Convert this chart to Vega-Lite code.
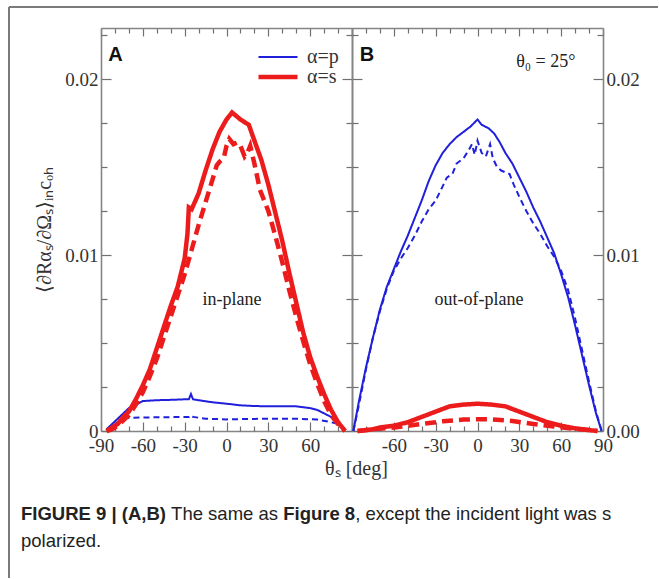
{
  "$schema": "https://vega.github.io/schema/vega-lite/v6.json",
  "background": "white",
  "padding": {"left": 7, "top": 5, "right": 0, "bottom": 0},
  "bounds": "flush",
  "columns": 2,
  "spacing": {"row": 60, "column": 0},
  "config": {
    "view": {"stroke": null},
    "axis": {"domainColor": "#858585", "domainWidth": 1.6, "tickColor": "#707070", "tickWidth": 1.2, "labelFont": "Liberation Serif", "labelFontSize": 19, "labelColor": "#333333", "grid": false, "labelFlush": false, "labelOverlap": false, "titleFont": "Liberation Serif", "titleFontWeight": "normal", "titleColor": "#333333"}
  },
  "datasets": {
    "A": [
      {"alpha": "α=s", "calc": "I", "theta": -86, "R": 0},
      {"alpha": "α=s", "calc": "I", "theta": -82, "R": 0.0002},
      {"alpha": "α=s", "calc": "I", "theta": -78, "R": 0.0004},
      {"alpha": "α=s", "calc": "I", "theta": -74, "R": 0.0008},
      {"alpha": "α=s", "calc": "I", "theta": -70, "R": 0.0011},
      {"alpha": "α=s", "calc": "I", "theta": -65, "R": 0.0018},
      {"alpha": "α=s", "calc": "I", "theta": -60, "R": 0.0026},
      {"alpha": "α=s", "calc": "I", "theta": -55, "R": 0.0035},
      {"alpha": "α=s", "calc": "I", "theta": -50, "R": 0.0047},
      {"alpha": "α=s", "calc": "I", "theta": -45, "R": 0.0059},
      {"alpha": "α=s", "calc": "I", "theta": -40, "R": 0.0071},
      {"alpha": "α=s", "calc": "I", "theta": -35, "R": 0.0082},
      {"alpha": "α=s", "calc": "I", "theta": -30, "R": 0.0098},
      {"alpha": "α=s", "calc": "I", "theta": -28, "R": 0.0112},
      {"alpha": "α=s", "calc": "I", "theta": -27, "R": 0.0127},
      {"alpha": "α=s", "calc": "I", "theta": -25, "R": 0.0126},
      {"alpha": "α=s", "calc": "I", "theta": -20, "R": 0.0135},
      {"alpha": "α=s", "calc": "I", "theta": -15, "R": 0.0148},
      {"alpha": "α=s", "calc": "I", "theta": -10, "R": 0.016},
      {"alpha": "α=s", "calc": "I", "theta": -5, "R": 0.017},
      {"alpha": "α=s", "calc": "I", "theta": 0, "R": 0.0177},
      {"alpha": "α=s", "calc": "I", "theta": 4, "R": 0.0181},
      {"alpha": "α=s", "calc": "I", "theta": 10, "R": 0.0177},
      {"alpha": "α=s", "calc": "I", "theta": 16, "R": 0.0174},
      {"alpha": "α=s", "calc": "I", "theta": 20, "R": 0.0165},
      {"alpha": "α=s", "calc": "I", "theta": 25, "R": 0.0154},
      {"alpha": "α=s", "calc": "I", "theta": 30, "R": 0.014},
      {"alpha": "α=s", "calc": "I", "theta": 35, "R": 0.0124},
      {"alpha": "α=s", "calc": "I", "theta": 40, "R": 0.0108},
      {"alpha": "α=s", "calc": "I", "theta": 45, "R": 0.009},
      {"alpha": "α=s", "calc": "I", "theta": 50, "R": 0.0073},
      {"alpha": "α=s", "calc": "I", "theta": 55, "R": 0.0056},
      {"alpha": "α=s", "calc": "I", "theta": 60, "R": 0.0042},
      {"alpha": "α=s", "calc": "I", "theta": 65, "R": 0.0031},
      {"alpha": "α=s", "calc": "I", "theta": 70, "R": 0.0021},
      {"alpha": "α=s", "calc": "I", "theta": 75, "R": 0.0012},
      {"alpha": "α=s", "calc": "I", "theta": 80, "R": 0.0005},
      {"alpha": "α=s", "calc": "I", "theta": 85, "R": 0},
      {"alpha": "α=s", "calc": "II", "theta": -86, "R": 0},
      {"alpha": "α=s", "calc": "II", "theta": -82, "R": 0.0001},
      {"alpha": "α=s", "calc": "II", "theta": -78, "R": 0.0003},
      {"alpha": "α=s", "calc": "II", "theta": -74, "R": 0.0006},
      {"alpha": "α=s", "calc": "II", "theta": -70, "R": 0.0009},
      {"alpha": "α=s", "calc": "II", "theta": -65, "R": 0.0015},
      {"alpha": "α=s", "calc": "II", "theta": -60, "R": 0.0022},
      {"alpha": "α=s", "calc": "II", "theta": -55, "R": 0.0031},
      {"alpha": "α=s", "calc": "II", "theta": -50, "R": 0.0041},
      {"alpha": "α=s", "calc": "II", "theta": -45, "R": 0.0053},
      {"alpha": "α=s", "calc": "II", "theta": -40, "R": 0.0065},
      {"alpha": "α=s", "calc": "II", "theta": -35, "R": 0.0077},
      {"alpha": "α=s", "calc": "II", "theta": -30, "R": 0.0089},
      {"alpha": "α=s", "calc": "II", "theta": -25, "R": 0.0103},
      {"alpha": "α=s", "calc": "II", "theta": -20, "R": 0.0117},
      {"alpha": "α=s", "calc": "II", "theta": -15, "R": 0.013},
      {"alpha": "α=s", "calc": "II", "theta": -10, "R": 0.0143},
      {"alpha": "α=s", "calc": "II", "theta": -7, "R": 0.0151},
      {"alpha": "α=s", "calc": "II", "theta": -5, "R": 0.0153},
      {"alpha": "α=s", "calc": "II", "theta": -2, "R": 0.0155},
      {"alpha": "α=s", "calc": "II", "theta": 0, "R": 0.0162},
      {"alpha": "α=s", "calc": "II", "theta": 2, "R": 0.0166},
      {"alpha": "α=s", "calc": "II", "theta": 5, "R": 0.0163},
      {"alpha": "α=s", "calc": "II", "theta": 8, "R": 0.0164},
      {"alpha": "α=s", "calc": "II", "theta": 10, "R": 0.0162},
      {"alpha": "α=s", "calc": "II", "theta": 13, "R": 0.0156},
      {"alpha": "α=s", "calc": "II", "theta": 15, "R": 0.0158},
      {"alpha": "α=s", "calc": "II", "theta": 17, "R": 0.0162},
      {"alpha": "α=s", "calc": "II", "theta": 20, "R": 0.0152},
      {"alpha": "α=s", "calc": "II", "theta": 24, "R": 0.0137},
      {"alpha": "α=s", "calc": "II", "theta": 30, "R": 0.0125},
      {"alpha": "α=s", "calc": "II", "theta": 35, "R": 0.0111},
      {"alpha": "α=s", "calc": "II", "theta": 40, "R": 0.0096},
      {"alpha": "α=s", "calc": "II", "theta": 45, "R": 0.008},
      {"alpha": "α=s", "calc": "II", "theta": 50, "R": 0.0065},
      {"alpha": "α=s", "calc": "II", "theta": 55, "R": 0.0051},
      {"alpha": "α=s", "calc": "II", "theta": 60, "R": 0.0038},
      {"alpha": "α=s", "calc": "II", "theta": 65, "R": 0.0027},
      {"alpha": "α=s", "calc": "II", "theta": 70, "R": 0.0017},
      {"alpha": "α=s", "calc": "II", "theta": 75, "R": 0.0009},
      {"alpha": "α=s", "calc": "II", "theta": 80, "R": 0.0004},
      {"alpha": "α=s", "calc": "II", "theta": 85, "R": 0},
      {"alpha": "α=p", "calc": "I", "theta": -86, "R": 0.0001},
      {"alpha": "α=p", "calc": "I", "theta": -82, "R": 0.0004},
      {"alpha": "α=p", "calc": "I", "theta": -78, "R": 0.0007},
      {"alpha": "α=p", "calc": "I", "theta": -74, "R": 0.001},
      {"alpha": "α=p", "calc": "I", "theta": -70, "R": 0.0013},
      {"alpha": "α=p", "calc": "I", "theta": -65, "R": 0.0015},
      {"alpha": "α=p", "calc": "I", "theta": -60, "R": 0.0017},
      {"alpha": "α=p", "calc": "I", "theta": -50, "R": 0.00175},
      {"alpha": "α=p", "calc": "I", "theta": -40, "R": 0.00177},
      {"alpha": "α=p", "calc": "I", "theta": -30, "R": 0.0018},
      {"alpha": "α=p", "calc": "I", "theta": -27, "R": 0.0018},
      {"alpha": "α=p", "calc": "I", "theta": -25.5, "R": 0.0021},
      {"alpha": "α=p", "calc": "I", "theta": -24, "R": 0.0018},
      {"alpha": "α=p", "calc": "I", "theta": -20, "R": 0.00175},
      {"alpha": "α=p", "calc": "I", "theta": -10, "R": 0.00163},
      {"alpha": "α=p", "calc": "I", "theta": 0, "R": 0.00155},
      {"alpha": "α=p", "calc": "I", "theta": 10, "R": 0.00146},
      {"alpha": "α=p", "calc": "I", "theta": 20, "R": 0.00142},
      {"alpha": "α=p", "calc": "I", "theta": 30, "R": 0.0014},
      {"alpha": "α=p", "calc": "I", "theta": 40, "R": 0.0014},
      {"alpha": "α=p", "calc": "I", "theta": 50, "R": 0.0014},
      {"alpha": "α=p", "calc": "I", "theta": 60, "R": 0.0013},
      {"alpha": "α=p", "calc": "I", "theta": 65, "R": 0.0012},
      {"alpha": "α=p", "calc": "I", "theta": 70, "R": 0.001},
      {"alpha": "α=p", "calc": "I", "theta": 75, "R": 0.0008},
      {"alpha": "α=p", "calc": "I", "theta": 80, "R": 0.0004},
      {"alpha": "α=p", "calc": "I", "theta": 84, "R": 0.0001},
      {"alpha": "α=p", "calc": "II", "theta": -86, "R": 0.0001},
      {"alpha": "α=p", "calc": "II", "theta": -82, "R": 0.0003},
      {"alpha": "α=p", "calc": "II", "theta": -78, "R": 0.0005},
      {"alpha": "α=p", "calc": "II", "theta": -74, "R": 0.0007},
      {"alpha": "α=p", "calc": "II", "theta": -70, "R": 0.00075},
      {"alpha": "α=p", "calc": "II", "theta": -60, "R": 0.00077},
      {"alpha": "α=p", "calc": "II", "theta": -45, "R": 0.00078},
      {"alpha": "α=p", "calc": "II", "theta": -30, "R": 0.0008},
      {"alpha": "α=p", "calc": "II", "theta": -27, "R": 0.0008},
      {"alpha": "α=p", "calc": "II", "theta": -25.5, "R": 0.0009},
      {"alpha": "α=p", "calc": "II", "theta": -24, "R": 0.0008},
      {"alpha": "α=p", "calc": "II", "theta": -15, "R": 0.0007},
      {"alpha": "α=p", "calc": "II", "theta": 0, "R": 0.00066},
      {"alpha": "α=p", "calc": "II", "theta": 15, "R": 0.00068},
      {"alpha": "α=p", "calc": "II", "theta": 30, "R": 0.0007},
      {"alpha": "α=p", "calc": "II", "theta": 50, "R": 0.0007},
      {"alpha": "α=p", "calc": "II", "theta": 65, "R": 0.00065},
      {"alpha": "α=p", "calc": "II", "theta": 75, "R": 0.0005},
      {"alpha": "α=p", "calc": "II", "theta": 80, "R": 0.0004},
      {"alpha": "α=p", "calc": "II", "theta": 84, "R": 0.0001}
    ],
    "B": [
      {"alpha": "α=p", "calc": "I", "theta": -89, "R": 0},
      {"alpha": "α=p", "calc": "I", "theta": -85, "R": 0.0017},
      {"alpha": "α=p", "calc": "I", "theta": -80, "R": 0.0036},
      {"alpha": "α=p", "calc": "I", "theta": -75, "R": 0.0053},
      {"alpha": "α=p", "calc": "I", "theta": -70, "R": 0.0069},
      {"alpha": "α=p", "calc": "I", "theta": -65, "R": 0.0082},
      {"alpha": "α=p", "calc": "I", "theta": -60, "R": 0.0092},
      {"alpha": "α=p", "calc": "I", "theta": -55, "R": 0.0102},
      {"alpha": "α=p", "calc": "I", "theta": -50, "R": 0.0111},
      {"alpha": "α=p", "calc": "I", "theta": -45, "R": 0.0121},
      {"alpha": "α=p", "calc": "I", "theta": -40, "R": 0.0131},
      {"alpha": "α=p", "calc": "I", "theta": -35, "R": 0.0142},
      {"alpha": "α=p", "calc": "I", "theta": -30, "R": 0.0151},
      {"alpha": "α=p", "calc": "I", "theta": -25, "R": 0.0158},
      {"alpha": "α=p", "calc": "I", "theta": -20, "R": 0.0163},
      {"alpha": "α=p", "calc": "I", "theta": -15, "R": 0.0167},
      {"alpha": "α=p", "calc": "I", "theta": -10, "R": 0.017},
      {"alpha": "α=p", "calc": "I", "theta": -5, "R": 0.0173},
      {"alpha": "α=p", "calc": "I", "theta": 0, "R": 0.0177},
      {"alpha": "α=p", "calc": "I", "theta": 3, "R": 0.0174},
      {"alpha": "α=p", "calc": "I", "theta": 8, "R": 0.0172},
      {"alpha": "α=p", "calc": "I", "theta": 12, "R": 0.0169},
      {"alpha": "α=p", "calc": "I", "theta": 16, "R": 0.0164},
      {"alpha": "α=p", "calc": "I", "theta": 20, "R": 0.0158},
      {"alpha": "α=p", "calc": "I", "theta": 25, "R": 0.0152},
      {"alpha": "α=p", "calc": "I", "theta": 30, "R": 0.0144},
      {"alpha": "α=p", "calc": "I", "theta": 35, "R": 0.0136},
      {"alpha": "α=p", "calc": "I", "theta": 40, "R": 0.0127},
      {"alpha": "α=p", "calc": "I", "theta": 45, "R": 0.0119},
      {"alpha": "α=p", "calc": "I", "theta": 50, "R": 0.011},
      {"alpha": "α=p", "calc": "I", "theta": 55, "R": 0.0101},
      {"alpha": "α=p", "calc": "I", "theta": 60, "R": 0.0089},
      {"alpha": "α=p", "calc": "I", "theta": 65, "R": 0.0076},
      {"alpha": "α=p", "calc": "I", "theta": 70, "R": 0.006},
      {"alpha": "α=p", "calc": "I", "theta": 75, "R": 0.0043},
      {"alpha": "α=p", "calc": "I", "theta": 80, "R": 0.0026},
      {"alpha": "α=p", "calc": "I", "theta": 85, "R": 0.001},
      {"alpha": "α=p", "calc": "I", "theta": 89, "R": 0},
      {"alpha": "α=p", "calc": "II", "theta": -89, "R": 0},
      {"alpha": "α=p", "calc": "II", "theta": -85, "R": 0.0015},
      {"alpha": "α=p", "calc": "II", "theta": -80, "R": 0.0035},
      {"alpha": "α=p", "calc": "II", "theta": -75, "R": 0.0053},
      {"alpha": "α=p", "calc": "II", "theta": -70, "R": 0.0068},
      {"alpha": "α=p", "calc": "II", "theta": -65, "R": 0.0081},
      {"alpha": "α=p", "calc": "II", "theta": -60, "R": 0.0091},
      {"alpha": "α=p", "calc": "II", "theta": -55, "R": 0.0098},
      {"alpha": "α=p", "calc": "II", "theta": -50, "R": 0.0104},
      {"alpha": "α=p", "calc": "II", "theta": -45, "R": 0.0111},
      {"alpha": "α=p", "calc": "II", "theta": -40, "R": 0.0119},
      {"alpha": "α=p", "calc": "II", "theta": -35, "R": 0.0126},
      {"alpha": "α=p", "calc": "II", "theta": -30, "R": 0.0131},
      {"alpha": "α=p", "calc": "II", "theta": -25, "R": 0.0139},
      {"alpha": "α=p", "calc": "II", "theta": -22, "R": 0.0144},
      {"alpha": "α=p", "calc": "II", "theta": -18, "R": 0.0146},
      {"alpha": "α=p", "calc": "II", "theta": -15, "R": 0.0152},
      {"alpha": "α=p", "calc": "II", "theta": -10, "R": 0.0155},
      {"alpha": "α=p", "calc": "II", "theta": -6, "R": 0.016},
      {"alpha": "α=p", "calc": "II", "theta": -4, "R": 0.0163},
      {"alpha": "α=p", "calc": "II", "theta": -2, "R": 0.0157},
      {"alpha": "α=p", "calc": "II", "theta": 0, "R": 0.0165},
      {"alpha": "α=p", "calc": "II", "theta": 3, "R": 0.0158},
      {"alpha": "α=p", "calc": "II", "theta": 6, "R": 0.0156},
      {"alpha": "α=p", "calc": "II", "theta": 9, "R": 0.0163},
      {"alpha": "α=p", "calc": "II", "theta": 11, "R": 0.0155},
      {"alpha": "α=p", "calc": "II", "theta": 14, "R": 0.015},
      {"alpha": "α=p", "calc": "II", "theta": 17, "R": 0.0148},
      {"alpha": "α=p", "calc": "II", "theta": 20, "R": 0.0147},
      {"alpha": "α=p", "calc": "II", "theta": 23, "R": 0.0146},
      {"alpha": "α=p", "calc": "II", "theta": 26, "R": 0.014},
      {"alpha": "α=p", "calc": "II", "theta": 30, "R": 0.0133},
      {"alpha": "α=p", "calc": "II", "theta": 35, "R": 0.0125},
      {"alpha": "α=p", "calc": "II", "theta": 40, "R": 0.0118},
      {"alpha": "α=p", "calc": "II", "theta": 45, "R": 0.0112},
      {"alpha": "α=p", "calc": "II", "theta": 50, "R": 0.0105},
      {"alpha": "α=p", "calc": "II", "theta": 55, "R": 0.0099},
      {"alpha": "α=p", "calc": "II", "theta": 60, "R": 0.0091},
      {"alpha": "α=p", "calc": "II", "theta": 65, "R": 0.008},
      {"alpha": "α=p", "calc": "II", "theta": 70, "R": 0.0064},
      {"alpha": "α=p", "calc": "II", "theta": 75, "R": 0.0046},
      {"alpha": "α=p", "calc": "II", "theta": 80, "R": 0.0028},
      {"alpha": "α=p", "calc": "II", "theta": 85, "R": 0.0011},
      {"alpha": "α=p", "calc": "II", "theta": 89, "R": 0},
      {"alpha": "α=s", "calc": "I", "theta": -86, "R": 0},
      {"alpha": "α=s", "calc": "I", "theta": -80, "R": 0.00005},
      {"alpha": "α=s", "calc": "I", "theta": -75, "R": 0.0001},
      {"alpha": "α=s", "calc": "I", "theta": -70, "R": 0.0002},
      {"alpha": "α=s", "calc": "I", "theta": -60, "R": 0.0003},
      {"alpha": "α=s", "calc": "I", "theta": -50, "R": 0.0005},
      {"alpha": "α=s", "calc": "I", "theta": -40, "R": 0.0008},
      {"alpha": "α=s", "calc": "I", "theta": -30, "R": 0.0011},
      {"alpha": "α=s", "calc": "I", "theta": -20, "R": 0.0014},
      {"alpha": "α=s", "calc": "I", "theta": -10, "R": 0.0015},
      {"alpha": "α=s", "calc": "I", "theta": 0, "R": 0.00155},
      {"alpha": "α=s", "calc": "I", "theta": 10, "R": 0.0015},
      {"alpha": "α=s", "calc": "I", "theta": 20, "R": 0.0014},
      {"alpha": "α=s", "calc": "I", "theta": 30, "R": 0.0011},
      {"alpha": "α=s", "calc": "I", "theta": 40, "R": 0.0008},
      {"alpha": "α=s", "calc": "I", "theta": 50, "R": 0.0005},
      {"alpha": "α=s", "calc": "I", "theta": 60, "R": 0.0003},
      {"alpha": "α=s", "calc": "I", "theta": 70, "R": 0.00015},
      {"alpha": "α=s", "calc": "I", "theta": 80, "R": 0.00005},
      {"alpha": "α=s", "calc": "I", "theta": 86, "R": 0},
      {"alpha": "α=s", "calc": "II", "theta": -86, "R": 0},
      {"alpha": "α=s", "calc": "II", "theta": -75, "R": 0.0001},
      {"alpha": "α=s", "calc": "II", "theta": -60, "R": 0.0002},
      {"alpha": "α=s", "calc": "II", "theta": -50, "R": 0.0003},
      {"alpha": "α=s", "calc": "II", "theta": -40, "R": 0.0004},
      {"alpha": "α=s", "calc": "II", "theta": -25, "R": 0.00055},
      {"alpha": "α=s", "calc": "II", "theta": -10, "R": 0.00065},
      {"alpha": "α=s", "calc": "II", "theta": 0, "R": 0.00067},
      {"alpha": "α=s", "calc": "II", "theta": 10, "R": 0.00066},
      {"alpha": "α=s", "calc": "II", "theta": 25, "R": 0.00057},
      {"alpha": "α=s", "calc": "II", "theta": 40, "R": 0.0004},
      {"alpha": "α=s", "calc": "II", "theta": 55, "R": 0.00025},
      {"alpha": "α=s", "calc": "II", "theta": 70, "R": 0.00012},
      {"alpha": "α=s", "calc": "II", "theta": 80, "R": 0.00005},
      {"alpha": "α=s", "calc": "II", "theta": 86, "R": 0}
    ]
  },
  "concat": [
    {
      "width": 251,
      "height": 403,
      "layer": [
        {
          "data": {"values": [{}]},
          "mark": {"type": "rule", "clip": false, "color": "#7a7a7a", "strokeWidth": 2},
          "encoding": {
            "x": {"datum": -155.98, "type": "quantitative", "scale": {"domain": [-90, 90], "nice": false, "zero": false}, "axis": {"orient": "top", "values": [-80, -70, -50, -40, -20, -10, 10, 20, 40, 50, 70, 80], "tickSize": -5, "labels": false, "domain": false, "title": null}},
            "y": {"datum": 0.024094, "type": "quantitative", "scale": {"domain": [0, 0.0229], "nice": false, "zero": false}, "axis": {"orient": "right", "values": [0.0025, 0.005, 0.0075, 0.0125, 0.015, 0.0175, 0.0225], "tickSize": -6, "labels": false, "domain": false, "title": null}},
            "y2": {"datum": -0.008353}
          }
        },
        {
          "data": {"values": [{}]},
          "mark": {"type": "rule", "clip": false, "color": "#7a7a7a", "strokeWidth": 2},
          "encoding": {
            "x": {"datum": -155.98, "type": "quantitative", "scale": {"domain": [-90, 90], "nice": false, "zero": false}, "axis": null},
            "x2": {"datum": 309.45},
            "y": {"datum": 0.024094, "type": "quantitative", "scale": {"domain": [0, 0.0229], "nice": false, "zero": false}, "axis": null}
          }
        },
        {
          "data": {"name": "A"},
          "transform": [{"filter": {"field": "alpha", "equal": "α=p"}}],
          "mark": {"type": "line", "strokeWidth": 2},
          "encoding": {
            "x": {"field": "theta", "type": "quantitative", "scale": {"domain": [-90, 90], "nice": false, "zero": false},
              "axis": {"orient": "bottom", "values": [-90, -60, -30, 0, 30, 60, 90], "tickSize": -9, "labelPadding": 14, "labelExpr": "datum.value === 90 ? '' : '' + datum.value", "domain": true, "title": "θₛ [deg]", "titleFontSize": 20, "titleX": 255, "titleY": 37, "titleAlign": "center", "titleBaseline": "middle"}},
            "y": {"field": "R", "type": "quantitative", "scale": {"domain": [0, 0.0229], "nice": false, "zero": false},
              "axis": {"orient": "left", "values": [0, 0.01, 0.02], "tickSize": -10, "labelPadding": 13, "labelExpr": "datum.value === 0 ? '0' : format(datum.value, '.2f')", "domain": true, "title": "⟨∂Rαₛ/∂Ωₛ⟩ᵢₙcₒₕ", "titleFontSize": 20, "titlePadding": 10}},
            "color": {"field": "alpha", "type": "nominal", "scale": {"domain": ["α=p", "α=s"], "range": ["#1f1fdc", "#ec1c1c"]},
              "legend": {"orient": "none", "legendX": 167, "legendY": 19, "title": null, "direction": "vertical", "symbolType": "stroke", "symbolSize": 1521, "symbolStrokeWidth": 3, "labelFont": "Liberation Serif", "labelFontSize": 20, "labelColor": "#333333", "rowPadding": -4, "labelOffset": 19, "padding": 0,
                "encode": {"symbols": {"update": {"strokeWidth": {"signal": "datum.value === 'α=s' ? 4.5 : 2"}}}}}},
            "strokeDash": {"field": "calc", "type": "nominal", "scale": {"domain": ["I", "II"], "range": [[1, 0], [6, 4]]}, "legend": null}
          }
        },
        {
          "data": {"name": "A"},
          "transform": [{"filter": {"field": "alpha", "equal": "α=s"}}],
          "mark": {"type": "line", "strokeWidth": 4.5},
          "encoding": {
            "x": {"field": "theta", "type": "quantitative", "scale": {"domain": [-90, 90], "nice": false, "zero": false}, "axis": null},
            "y": {"field": "R", "type": "quantitative", "scale": {"domain": [0, 0.0229], "nice": false, "zero": false}, "axis": null},
            "color": {"field": "alpha", "type": "nominal", "scale": {"domain": ["α=p", "α=s"], "range": ["#1f1fdc", "#ec1c1c"]}},
            "strokeDash": {"field": "calc", "type": "nominal", "scale": {"domain": ["I", "II"], "range": [[1, 0], [11, 6]]}, "legend": null}
          }
        },
        {
          "data": {"values": [{}]},
          "mark": {"type": "text", "text": "A", "font": "Liberation Sans", "fontWeight": "bold", "fontSize": 20, "color": "#111111", "align": "center", "baseline": "middle"},
          "encoding": {
            "x": {"datum": -79.6, "type": "quantitative", "scale": {"domain": [-90, 90], "nice": false, "zero": false}, "axis": {"orient": "top", "values": [-90, -60, -30, 0, 30, 60, 90], "tickSize": -8, "labels": false, "domain": true, "title": null}},
            "y": {"datum": 0.02137, "type": "quantitative", "scale": {"domain": [0, 0.0229], "nice": false, "zero": false}, "axis": {"orient": "right", "values": [0, 0.01, 0.02], "tickSize": -10, "labels": false, "domain": true, "title": null}}
          }
        },
        {
          "data": {"values": [{}]},
          "mark": {"type": "text", "text": "in-plane", "font": "Liberation Serif", "fontSize": 18, "color": "#222222", "align": "center", "baseline": "middle"},
          "encoding": {
            "x": {"datum": 3.9, "type": "quantitative", "scale": {"domain": [-90, 90], "nice": false, "zero": false}, "axis": {"orient": "bottom", "values": [-80, -70, -50, -40, -20, -10, 10, 20, 40, 50, 70, 80], "tickSize": -5, "labels": false, "domain": false, "title": null}},
            "y": {"datum": 0.00744, "type": "quantitative", "scale": {"domain": [0, 0.0229], "nice": false, "zero": false}, "axis": {"orient": "left", "values": [0.0025, 0.005, 0.0075, 0.0125, 0.015, 0.0175, 0.0225], "tickSize": -6, "labels": false, "domain": false, "title": null}}
          }
        }
      ],
      "resolve": {"scale": {"strokeDash": "independent"}, "axis": {"x": "independent", "y": "independent"}}
    },
    {
      "width": 251,
      "height": 403,
      "layer": [
        {
          "data": {"name": "B"},
          "transform": [{"filter": {"field": "alpha", "equal": "α=p"}}],
          "mark": {"type": "line", "strokeWidth": 2},
          "encoding": {
            "x": {"field": "theta", "type": "quantitative", "scale": {"domain": [-90, 90], "nice": false, "zero": false},
              "axis": {"orient": "bottom", "values": [-90, -60, -30, 0, 30, 60, 90], "tickSize": -9, "labelPadding": 14, "labelExpr": "datum.value === -90 ? '' : '' + datum.value", "domain": true, "title": null}},
            "y": {"field": "R", "type": "quantitative", "scale": {"domain": [0, 0.0229], "nice": false, "zero": false},
              "axis": {"orient": "right", "values": [0, 0.01, 0.02], "tickSize": -10, "labelPadding": 13, "labelExpr": "format(datum.value, '.2f')", "domain": true, "title": null}},
            "color": {"field": "alpha", "type": "nominal", "scale": {"domain": ["α=p", "α=s"], "range": ["#1f1fdc", "#ec1c1c"]}, "legend": null},
            "strokeDash": {"field": "calc", "type": "nominal", "scale": {"domain": ["I", "II"], "range": [[1, 0], [6, 4]]}, "legend": null}
          }
        },
        {
          "data": {"name": "B"},
          "transform": [{"filter": {"field": "alpha", "equal": "α=s"}}],
          "mark": {"type": "line", "strokeWidth": 4.5},
          "encoding": {
            "x": {"field": "theta", "type": "quantitative", "scale": {"domain": [-90, 90], "nice": false, "zero": false}, "axis": null},
            "y": {"field": "R", "type": "quantitative", "scale": {"domain": [0, 0.0229], "nice": false, "zero": false}, "axis": null},
            "color": {"field": "alpha", "type": "nominal", "scale": {"domain": ["α=p", "α=s"], "range": ["#1f1fdc", "#ec1c1c"]}, "legend": null},
            "strokeDash": {"field": "calc", "type": "nominal", "scale": {"domain": ["I", "II"], "range": [[1, 0], [11, 6]]}, "legend": null}
          }
        },
        {
          "data": {"values": [{}]},
          "mark": {"type": "text", "text": "B", "font": "Liberation Sans", "fontWeight": "bold", "fontSize": 20, "color": "#111111", "align": "center", "baseline": "middle"},
          "encoding": {
            "x": {"datum": -79.2, "type": "quantitative", "scale": {"domain": [-90, 90], "nice": false, "zero": false}, "axis": {"orient": "top", "values": [-90, -60, -30, 0, 30, 60, 90], "tickSize": -8, "labels": false, "domain": true, "title": null}},
            "y": {"datum": 0.02137, "type": "quantitative", "scale": {"domain": [0, 0.0229], "nice": false, "zero": false}, "axis": {"orient": "left", "values": [0, 0.01, 0.02], "tickSize": -10, "labels": false, "domain": true, "title": null}}
          }
        },
        {
          "data": {"values": [{}]},
          "mark": {"type": "text", "text": "θ₀ = 25°", "font": "Liberation Serif", "fontSize": 18, "color": "#222222", "align": "center", "baseline": "middle"},
          "encoding": {
            "x": {"datum": 49, "type": "quantitative", "scale": {"domain": [-90, 90], "nice": false, "zero": false}, "axis": {"orient": "top", "values": [-80, -70, -50, -40, -20, -10, 10, 20, 40, 50, 70, 80], "tickSize": -5, "labels": false, "domain": false, "title": null}},
            "y": {"datum": 0.02097, "type": "quantitative", "scale": {"domain": [0, 0.0229], "nice": false, "zero": false}, "axis": {"orient": "left", "values": [0.0025, 0.005, 0.0075, 0.0125, 0.015, 0.0175, 0.0225], "tickSize": -6, "labels": false, "domain": false, "title": null}}
          }
        },
        {
          "data": {"values": [{}]},
          "mark": {"type": "text", "text": "out-of-plane", "font": "Liberation Serif", "fontSize": 18, "color": "#222222", "align": "center", "baseline": "middle"},
          "encoding": {
            "x": {"datum": 1.1, "type": "quantitative", "scale": {"domain": [-90, 90], "nice": false, "zero": false}, "axis": {"orient": "bottom", "values": [-80, -70, -50, -40, -20, -10, 10, 20, 40, 50, 70, 80], "tickSize": -5, "labels": false, "domain": false, "title": null}},
            "y": {"datum": 0.00744, "type": "quantitative", "scale": {"domain": [0, 0.0229], "nice": false, "zero": false}, "axis": {"orient": "right", "values": [0.0025, 0.005, 0.0075, 0.0125, 0.015, 0.0175, 0.0225], "tickSize": -6, "labels": false, "domain": false, "title": null}}
          }
        }
      ],
      "resolve": {"scale": {"strokeDash": "independent"}, "axis": {"x": "independent", "y": "independent"}}
    },
    {
      "width": 251,
      "height": 60,
      "data": {"values": [{}]},
      "layer": [
        {
          "mark": {"type": "text", "text": "FIGURE 9 | (A,B)", "font": "Liberation Sans", "fontWeight": "bold", "fontSize": 18.5, "color": "#222222", "align": "left", "baseline": "middle"},
          "encoding": {
            "x": {"datum": -80, "type": "quantitative", "scale": {"domain": [0, 251], "nice": false, "zero": false}, "axis": null},
            "y": {"datum": 23, "type": "quantitative", "scale": {"domain": [0, 60], "reverse": true, "nice": false, "zero": false}, "axis": null}
          }
        },
        {
          "mark": {"type": "text", "text": "The same as", "font": "Liberation Sans", "fontSize": 18.5, "color": "#222222", "align": "left", "baseline": "middle"},
          "encoding": {
            "x": {"datum": 70.1, "type": "quantitative", "scale": {"domain": [0, 251], "nice": false, "zero": false}, "axis": null},
            "y": {"datum": 23, "type": "quantitative", "scale": {"domain": [0, 60], "reverse": true, "nice": false, "zero": false}, "axis": null}
          }
        },
        {
          "mark": {"type": "text", "text": "Figure 8", "font": "Liberation Sans", "fontWeight": "bold", "fontSize": 18.5, "color": "#222222", "align": "left", "baseline": "middle"},
          "encoding": {
            "x": {"datum": 182.2, "type": "quantitative", "scale": {"domain": [0, 251], "nice": false, "zero": false}, "axis": null},
            "y": {"datum": 23, "type": "quantitative", "scale": {"domain": [0, 60], "reverse": true, "nice": false, "zero": false}, "axis": null}
          }
        },
        {
          "mark": {"type": "text", "text": ", except the incident light was s", "font": "Liberation Sans", "fontSize": 18.5, "color": "#222222", "align": "left", "baseline": "middle"},
          "encoding": {
            "x": {"datum": 254.2, "type": "quantitative", "scale": {"domain": [0, 251], "nice": false, "zero": false}, "axis": null},
            "y": {"datum": 23, "type": "quantitative", "scale": {"domain": [0, 60], "reverse": true, "nice": false, "zero": false}, "axis": null}
          }
        },
        {
          "mark": {"type": "text", "text": "polarized.", "font": "Liberation Sans", "fontSize": 18.5, "color": "#222222", "align": "left", "baseline": "middle"},
          "encoding": {
            "x": {"datum": -80, "type": "quantitative", "scale": {"domain": [0, 251], "nice": false, "zero": false}, "axis": null},
            "y": {"datum": 50, "type": "quantitative", "scale": {"domain": [0, 60], "reverse": true, "nice": false, "zero": false}, "axis": null}
          }
        }
      ]
    }
  ],
  "resolve": {"scale": {"color": "independent", "strokeDash": "independent"}, "legend": {"color": "independent"}}
}
